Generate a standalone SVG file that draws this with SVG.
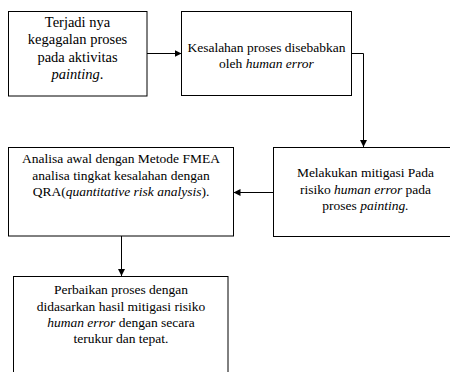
<svg xmlns="http://www.w3.org/2000/svg" width="450" height="372" viewBox="0 0 450 372">
<style>
.box{fill:#fff;stroke:#000;stroke-width:1}
.ln{fill:none;stroke:#000;stroke-width:1}
.tx{font-family:'Liberation Serif','Times New Roman',serif;fill:#000;text-anchor:middle}
.t14{font-size:14.5px}
.t13{font-size:13.5px}
.i{font-style:italic}
</style>
<defs>
<marker id="ah" markerWidth="8" markerHeight="8" refX="7" refY="4" orient="auto" markerUnits="userSpaceOnUse">
<path d="M0,0.5 L7,4 L0,7.5 Z" fill="#000"/>
</marker>
</defs>
<rect width="450" height="372" fill="#fff"/>
<g id="connectors">
<line class="ln" x1="147" y1="53.5" x2="181.5" y2="53.5" marker-end="url(#ah)"/>
<polyline class="ln" points="351.5,53.5 363.5,53.5 363.5,147" marker-end="url(#ah)"/>
<line class="ln" x1="273.5" y1="192.5" x2="233.5" y2="192.5" marker-end="url(#ah)"/>
<line class="ln" x1="121.5" y1="236" x2="121.5" y2="276" marker-end="url(#ah)"/>
</g>
<g id="node1" class="tx">
<rect class="box" x="8.5" y="11.5" width="138.5" height="84.5"/>
<text class="t14" x="77.5" y="27">Terjadi nya</text>
<text class="t14" x="77.5" y="44">kegagalan proses</text>
<text class="t14" x="77.5" y="61.5">pada aktivitas</text>
<text class="t14" x="77.5" y="79"><tspan class="i">painting</tspan>.</text>
</g>
<g id="node2" class="tx">
<rect class="box" x="181.5" y="11.5" width="170" height="84"/>
<text class="t13" x="266.5" y="51.5">Kesalahan proses disebabkan</text>
<text class="t13" x="266.5" y="67.5">oleh <tspan class="i">human error</tspan></text>
</g>
<g id="node3" class="tx">
<rect class="box" x="273.5" y="147.5" width="185" height="89"/>
<text class="t13" x="365.5" y="177">Melakukan mitigasi Pada</text>
<text class="t13" x="365.5" y="193.5">risiko <tspan class="i">human error</tspan> pada</text>
<text class="t13" x="365.5" y="210">proses <tspan class="i">painting.</tspan></text>
</g>
<g id="node4" class="tx">
<rect class="box" x="8.5" y="147.5" width="225" height="88.5"/>
<text class="t13" x="121" y="163">Analisa awal dengan Metode FMEA</text>
<text class="t13" x="121" y="179.5">analisa tingkat kesalahan dengan</text>
<text class="t13" x="121" y="195.5">QRA(<tspan class="i">quantitative risk analysis</tspan>).</text>
</g>
<g id="node5" class="tx">
<rect class="box" x="13.5" y="276.5" width="214.5" height="110"/>
<text class="t13" x="121" y="294">Perbaikan proses dengan</text>
<text class="t13" x="121" y="310.5">didasarkan hasil mitigasi risiko</text>
<text class="t13" x="121" y="326.5"><tspan class="i">human error</tspan> dengan secara</text>
<text class="t13" x="121" y="342.5">terukur dan tepat.</text>
</g>
</svg>
